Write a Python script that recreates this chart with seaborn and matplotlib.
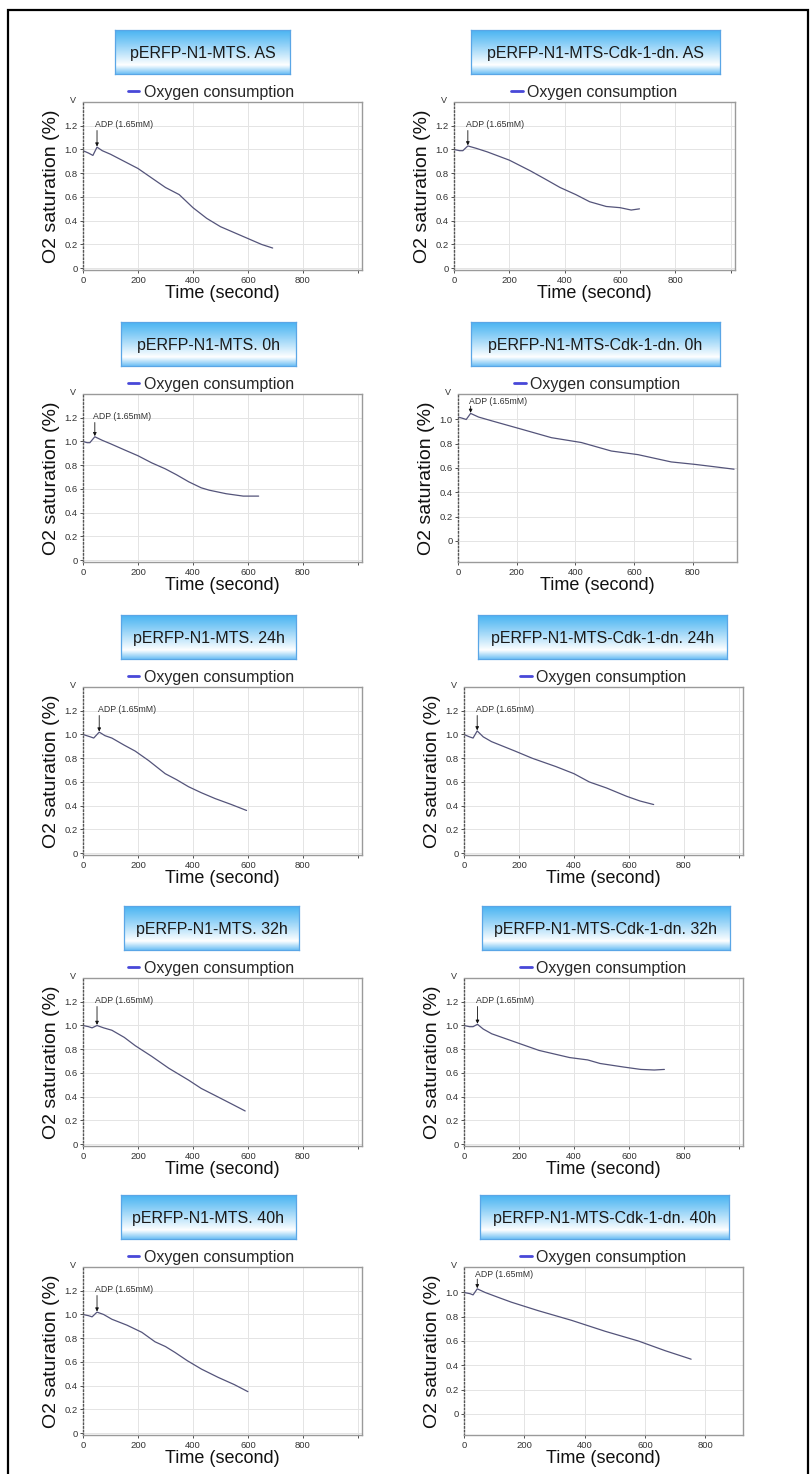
import numpy as np
import matplotlib
matplotlib.use("Agg")
import matplotlib.pyplot as plt
import matplotlib.patches as mpatches
import seaborn as sns

# ---- data (time in s, O2 saturation) ----
t_mts_as = [0, 20, 36, 51, 70, 100, 150, 200, 250, 300, 350, 400, 450, 500, 550, 600, 650, 690]
o2_mts_as = [0.99, 0.97, 0.95, 1.02, 0.99, 0.96, 0.90, 0.84, 0.76, 0.68, 0.62, 0.51, 0.42, 0.35, 0.30, 0.25, 0.20, 0.17]

t_cdk_as = [0, 20, 32, 50, 80, 120, 200, 276, 330, 383, 440, 490, 550, 600, 640, 670]
o2_cdk_as = [1.0, 0.99, 0.99, 1.03, 1.01, 0.98, 0.91, 0.82, 0.75, 0.68, 0.62, 0.56, 0.52, 0.51, 0.49, 0.50]

t_mts_0h = [0, 15, 25, 43, 70, 101, 150, 200, 250, 299, 340, 385, 430, 459, 521, 583, 639]
o2_mts_0h = [1.0, 0.99, 0.99, 1.04, 1.01, 0.98, 0.93, 0.88, 0.82, 0.77, 0.72, 0.66, 0.61, 0.59, 0.56, 0.54, 0.54]

t_cdk_0h = [0, 15, 28, 43, 70, 113, 216, 318, 420, 522, 613, 726, 806, 874, 940]
o2_cdk_0h = [1.02, 1.01, 1.0, 1.05, 1.02, 0.99, 0.92, 0.85, 0.81, 0.74, 0.71, 0.65, 0.63, 0.61, 0.59]

t_mts_24h = [0, 27, 39, 59, 80, 105, 150, 190, 239, 299, 340, 384, 430, 481, 540, 595]
o2_mts_24h = [1.0, 0.98, 0.97, 1.02, 0.99, 0.97, 0.91, 0.86, 0.78, 0.67, 0.62, 0.56, 0.51, 0.46, 0.41, 0.36]

t_cdk_24h = [0, 20, 33, 48, 70, 100, 186, 248, 334, 400, 456, 518, 591, 640, 690]
o2_cdk_24h = [1.0, 0.98, 0.97, 1.03, 0.98, 0.94, 0.86, 0.80, 0.73, 0.67, 0.60, 0.55, 0.48, 0.44, 0.41]

t_mts_32h = [0, 20, 33, 51, 75, 105, 150, 190, 250, 312, 384, 430, 481, 540, 590]
o2_mts_32h = [1.0, 0.99, 0.98, 1.0, 0.98, 0.96, 0.90, 0.83, 0.74, 0.64, 0.54, 0.47, 0.41, 0.34, 0.28]

t_cdk_32h = [0, 20, 33, 49, 70, 101, 187, 273, 384, 450, 495, 581, 643, 692, 729]
o2_cdk_32h = [1.0, 0.99, 0.99, 1.01, 0.97, 0.93, 0.86, 0.79, 0.73, 0.71, 0.68, 0.65, 0.63, 0.625, 0.63]

t_mts_40h = [0, 20, 33, 51, 75, 105, 160, 214, 262, 300, 335, 380, 431, 492, 550, 600]
o2_mts_40h = [1.0, 0.99, 0.98, 1.02, 1.0, 0.96, 0.91, 0.85, 0.77, 0.73, 0.68, 0.61, 0.54, 0.47, 0.41, 0.35]

t_cdk_40h = [0, 20, 30, 44, 70, 113, 157, 246, 357, 468, 578, 667, 753]
o2_cdk_40h = [1.0, 0.99, 0.98, 1.03, 1.0, 0.96, 0.92, 0.85, 0.77, 0.68, 0.60, 0.52, 0.45]

titles = ["pERFP-N1-MTS. AS", "pERFP-N1-MTS-Cdk-1-dn. AS",
          "pERFP-N1-MTS. 0h", "pERFP-N1-MTS-Cdk-1-dn. 0h",
          "pERFP-N1-MTS. 24h", "pERFP-N1-MTS-Cdk-1-dn. 24h",
          "pERFP-N1-MTS. 32h", "pERFP-N1-MTS-Cdk-1-dn. 32h",
          "pERFP-N1-MTS. 40h", "pERFP-N1-MTS-Cdk-1-dn. 40h"]
adp_time = [51, 50, 43, 43, 59, 48, 51, 49, 51, 44]

series = [(t_mts_as, o2_mts_as), (t_cdk_as, o2_cdk_as),
          (t_mts_0h, o2_mts_0h), (t_cdk_0h, o2_cdk_0h),
          (t_mts_24h, o2_mts_24h), (t_cdk_24h, o2_cdk_24h),
          (t_mts_32h, o2_mts_32h), (t_cdk_32h, o2_cdk_32h),
          (t_mts_40h, o2_mts_40h), (t_cdk_40h, o2_cdk_40h)]

sns.set_theme(style="white")
plt.rcParams['font.family'] = ['Liberation Sans', 'DejaVu Sans']

W, H = 810, 1474
fig = plt.figure(figsize=(W / 100, H / 100), dpi=100)

LINE = "#54547a"
LEG = "#4848d8"

# axes boxes in pixels
row_top = [102, 394, 687, 978, 1267]
row_h = 168
left_x = (83, 362)
right_x = [(454, 735), (458, 737), (464, 743), (464, 743), (464, 743)]

box_left = [(115, 290), (121, 296), (121, 296), (124, 299), (121, 296)]
box_right = [(471, 720), (471, 720), (478, 727), (482, 730), (480, 729)]


def px_axes(x0, y0, x1, y1):
    return fig.add_axes([x0 / W, 1 - y1 / H, (x1 - x0) / W, (y1 - y0) / H])


def title_box(x0, x1, y0, text):
    bax = px_axes(x0, y0, x1, y0 + 44)
    top = np.array([0.30, 0.71, 0.95])
    bot = np.array([0.45, 0.76, 0.96])
    white = np.array([1.0, 1.0, 1.0])
    rows = []
    for f in np.linspace(0, 1, 60):
        if f < 0.80:
            c = top + (white - top) * (f / 0.80) ** 1.1
        else:
            c = white + (bot - white) * ((f - 0.80) / 0.20)
        rows.append(c)
    img = np.array(rows)[:, None, :].repeat(40, axis=1)
    bax.imshow(img, aspect='auto', extent=(0, 1, 0, 1), interpolation='bilinear')
    bax.set_xlim(0, 1)
    bax.set_ylim(0, 1)
    bax.set_xticks([])
    bax.set_yticks([])
    for s in bax.spines.values():
        s.set_color("#5aa6e6")
        s.set_linewidth(0.9)
    bax.text(0.5, 0.47, text, ha='center', va='center', fontsize=11.5, color="#1a1a1a")


for i, (t, o2) in enumerate(series):
    row, col = divmod(i, 2)
    top = row_top[row]
    if col == 0:
        x0, x1 = left_x
        bx = box_left[row]
        leg_x = 0.46
    else:
        x0, x1 = right_x[row]
        bx = box_right[row]
        leg_x = 0.50
    ax = px_axes(x0, top, x1, top + row_h)
    title_box(bx[0], bx[1], top - 72, titles[i])

    wide = (i == 3 or i == 9)
    sns.lineplot(x=t, y=o2, ax=ax, color=LINE, linewidth=0.9,
                 label="Oxygen consumption", estimator=None, sort=False)

    if wide:
        ax.set_xlim(0, 950 if i == 3 else 925)
        ax.set_ylim(-0.175, 1.21)
        yt = [0, 0.2, 0.4, 0.6, 0.8, 1.0]
        xt = [0, 200, 400, 600, 800]
        xtl = ["0", "200", "400", "600", "800"]
        ty, ay = 1.15, 1.11
    else:
        ax.set_xlim(0, 1015)
        ax.set_ylim(-0.015, 1.40)
        yt = [0, 0.2, 0.4, 0.6, 0.8, 1.0, 1.2]
        xt = [0, 200, 400, 600, 800, 1000]
        xtl = ["0", "200", "400", "600", "800", ""]
        ty, ay = 1.21, 1.16
    ax.set_yticks(yt)
    ax.set_yticklabels(["0" if v == 0 else f"{v:.1f}" for v in yt])
    ax.set_xticks(xt)
    ax.set_xticklabels(xtl)
    ax.grid(True, color="#e4e4e4", linewidth=0.7)
    ax.tick_params(axis='both', labelsize=6.8, length=2, width=0.6, pad=2,
                   colors="#333333", left=True, bottom=True)
    for name, s in ax.spines.items():
        s.set_color("#9a9a9a")
        s.set_linewidth(1.0)
    ax.spines['left'].set_linestyle(':')
    ax.spines['left'].set_color("#555555")

    ax.set_xlabel("Time (second)", fontsize=13, labelpad=0, color="#111111")
    ax.set_ylabel("O2 saturation (%)", fontsize=14, labelpad=3, color="#111111")
    ax.text(-0.025, 1.01, "V", transform=ax.transAxes, ha='right', va='center',
            fontsize=6.5, color="#333333")

    # ADP marker
    a = adp_time[i]
    peak = float(np.interp(a, t, o2))
    ax.annotate("", xy=(a, peak + 0.005), xytext=(a, ay),
                arrowprops=dict(arrowstyle="-|>", color="#111111", lw=0.6,
                                mutation_scale=5, shrinkA=0, shrinkB=0))
    ax.text(a - 6, ty, "ADP (1.65mM)", fontsize=6.3, color="#333333",
            ha='left', va='center')

    leg = ax.legend(loc='lower center', bbox_to_anchor=(leg_x, 1.0), frameon=False,
                    fontsize=11.5, handlelength=0.7, handletextpad=0.3,
                    borderaxespad=0.05, borderpad=0.1)
    for h in leg.legend_handles:
        h.set_color(LEG)
        h.set_linewidth(2.0)

# outer frame
fig.add_artist(mpatches.Rectangle((8 / W, -0.01), 800 / W, 1 - 10 / H + 0.01,
                                  transform=fig.transFigure, fill=False,
                                  edgecolor="black", linewidth=1.6))

fig.savefig("out.png", dpi=100)
